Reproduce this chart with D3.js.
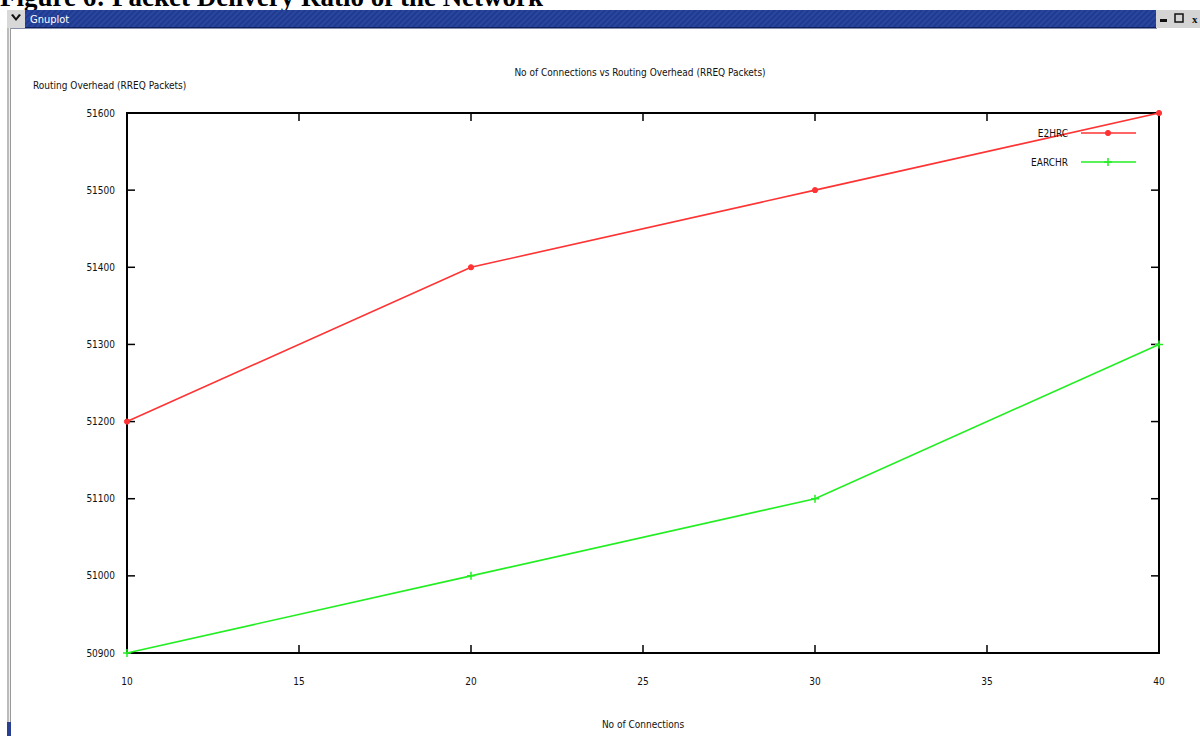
<!DOCTYPE html>
<html><head><meta charset="utf-8">
<script src="https://cdn.jsdelivr.net/npm/d3@7"></script>
<style>
html,body{margin:0;padding:0;background:#fff;overflow:hidden;}
svg{display:block;}
.t{font-family:"Liberation Sans Narrow","DejaVu Sans Condensed",sans-serif;font-size:10px;fill:#111;}
</style></head>
<body><svg id="c" width="1200" height="736"></svg>
<script>
const categories = [10, 20, 30, 40];
const e2hrc = [51200, 51400, 51500, 51600];
const earchr = [50900, 51000, 51100, 51300];
const xTicks = [10, 15, 20, 25, 30, 35, 40];
const yTicks = [50900, 51000, 51100, 51200, 51300, 51400, 51500, 51600];
const seriesNames = ["E2HRC", "EARCHR"];
const seriesColors = ["#ff3333", "#22ee22"];

const svg = d3.select("#c");
// page heading (cut off at top, as in the reference)
svg.append("text").attr("x", 0).attr("y", 6)
  .attr("font-family", "Liberation Serif, Times New Roman, serif")
  .attr("font-weight", "bold").attr("font-size", 27).attr("fill", "#000")
  .text("Figure 6: Packet Delivery Ratio of the Network");

// window chrome
const grad = svg.append("defs").append("pattern").attr("id","stripe").attr("width",4).attr("height",4)
  .attr("patternUnits","userSpaceOnUse").attr("patternTransform","rotate(45)");
grad.append("rect").attr("width",4).attr("height",4).attr("fill","#1f3a8f");
grad.append("rect").attr("width",2).attr("height",4).attr("fill","#2a47a0");
svg.append("rect").attr("x",7).attr("y",10).attr("width",1150).attr("height",18).attr("fill","url(#stripe)");
svg.append("rect").attr("x",7).attr("y",27).attr("width",1150).attr("height",1.5).attr("fill","#0d1f5c");
svg.append("rect").attr("x",7).attr("y",10).attr("width",18).attr("height",18).attr("fill","#d8d8d8");
svg.append("path").attr("d","M11,15 L16,21 L21,15 L19,14 L16,18 L13,14 Z").attr("fill","#111");
svg.append("text").attr("x",30).attr("y",23).attr("fill","#fff")
  .attr("font-family","DejaVu Sans Condensed, sans-serif").attr("font-size",11).text("Gnuplot");
svg.append("rect").attr("x",1156).attr("y",10).attr("width",44).attr("height",18).attr("fill","#d4d4d4");
svg.append("rect").attr("x",1160).attr("y",19).attr("width",7).attr("height",3).attr("fill","#111");
svg.append("rect").attr("x",1175).attr("y",14).attr("width",8).attr("height",8).attr("fill","none").attr("stroke","#111").attr("stroke-width",1.5);
svg.append("text").attr("x",1192).attr("y",23).attr("font-size",11).attr("font-weight","bold").attr("fill","#111").text("x");
svg.append("rect").attr("x",7).attr("y",28).attr("width",2).attr("height",708).attr("fill","#bbbbbb");
svg.append("rect").attr("x",9).attr("y",28).attr("width",1).attr("height",708).attr("fill","#eeeeee");
svg.append("rect").attr("x",10).attr("y",28).attr("width",1).attr("height",708).attr("fill","#999");
svg.append("rect").attr("x",7).attr("y",722).attr("width",4).attr("height",14).attr("fill","#2a3f8f");

// plot
const L = 127, R = 1159, T = 113, B = 653;
const x = d3.scaleLinear().domain([10, 40]).range([L, R]);
const y = d3.scaleLinear().domain([50900, 51600]).range([B, T]);

const g = svg.append("g");
const tl = 8;
xTicks.forEach(v => {
  g.append("line").attr("x1", x(v)).attr("x2", x(v)).attr("y1", B).attr("y2", B - tl).attr("stroke", "#000").attr("stroke-width", 1.5);
  g.append("line").attr("x1", x(v)).attr("x2", x(v)).attr("y1", T).attr("y2", T + tl).attr("stroke", "#000").attr("stroke-width", 1.5);
  g.append("text").attr("class", "t").attr("x", x(v)).attr("y", B + 32).attr("text-anchor", "middle").text(v);
});
yTicks.forEach(v => {
  g.append("line").attr("x1", L).attr("x2", L + tl).attr("y1", y(v)).attr("y2", y(v)).attr("stroke", "#000").attr("stroke-width", 1.5);
  g.append("line").attr("x1", R).attr("x2", R - tl).attr("y1", y(v)).attr("y2", y(v)).attr("stroke", "#000").attr("stroke-width", 1.5);
  g.append("text").attr("class", "t").attr("x", 115).attr("y", y(v) + 3.5).attr("text-anchor", "end").text(v);
});
g.append("rect").attr("x", L).attr("y", T).attr("width", R - L).attr("height", B - T)
  .attr("fill", "none").attr("stroke", "#000").attr("stroke-width", 2);

// labels
svg.append("text").attr("class", "t").attr("x", 640).attr("y", 76).attr("text-anchor", "middle")
  .text("No of Connections vs Routing Overhead (RREQ Packets)");
svg.append("text").attr("class", "t").attr("x", 33).attr("y", 89)
  .text("Routing Overhead (RREQ Packets)");
svg.append("text").attr("class", "t").attr("x", 643).attr("y", 728).attr("text-anchor", "middle")
  .text("No of Connections");

// series
const line = d3.line().x(d => x(d[0])).y(d => y(d[1]));
const allSeries = [e2hrc, earchr];
function marker(sel, i, cx, cy) {
  if (i === 0) {
    sel.append("circle").attr("cx", cx).attr("cy", cy).attr("r", 2.6).attr("fill", seriesColors[0]).attr("stroke", seriesColors[0]);
  } else {
    sel.append("path").attr("d", `M${cx-4},${cy}H${cx+4}M${cx},${cy-4}V${cy+4}`).attr("stroke", seriesColors[1]).attr("stroke-width", 1.5);
  }
}
allSeries.forEach((vals, i) => {
  const pts = categories.map((c, k) => [c, vals[k]]);
  svg.append("path").datum(pts).attr("d", line).attr("fill", "none")
    .attr("stroke", seriesColors[i]).attr("stroke-width", 1.6);
  pts.forEach(p => marker(svg, i, x(p[0]), y(p[1])));
  const ly = 133 + i * 29;
  svg.append("text").attr("class", "t").attr("x", 1068).attr("y", ly + 3.5).attr("text-anchor", "end").text(seriesNames[i]);
  svg.append("line").attr("x1", 1081).attr("x2", 1136).attr("y1", ly).attr("y2", ly)
    .attr("stroke", seriesColors[i]).attr("stroke-width", 1.6);
  marker(svg, i, 1108, ly);
});
</script></body></html>
